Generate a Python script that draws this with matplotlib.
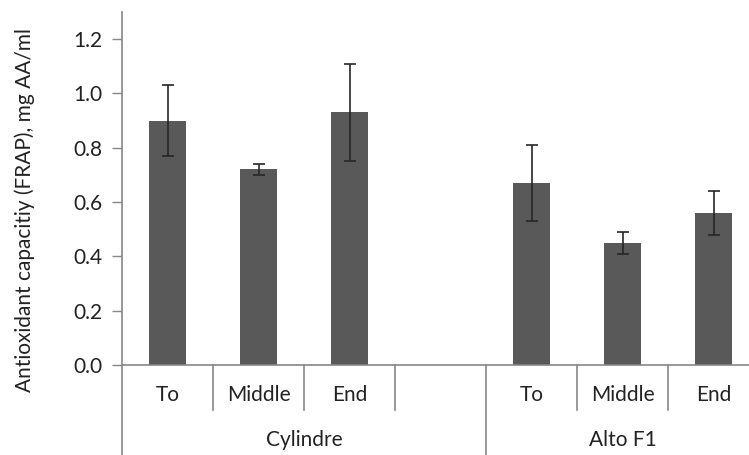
import numpy as np
import matplotlib.pyplot as plt
from matplotlib import rcParams

rcParams['font.family'] = ['Lato', 'DejaVu Sans']

# ===== data =====
groups = ['Cylindre', 'Alto F1']
sub_labels = ['To', 'Middle', 'End']
cyl_vals = [0.90, 0.72, 0.93]
cyl_err = [0.13, 0.02, 0.18]
alto_vals = [0.67, 0.45, 0.56]
alto_err = [0.14, 0.04, 0.08]
y_ticks = [0.0, 0.2, 0.4, 0.6, 0.8, 1.0, 1.2]
ylabel = 'Antioxidant capacitiy (FRAP), mg AA/ml'

# slots: 3 Cylindre + 1 empty + 3 Alto
cyl_pos = np.arange(len(cyl_vals))
alto_pos = np.arange(len(alto_vals)) + len(cyl_vals) + 1
n_slots = len(cyl_vals) + 1 + len(alto_vals)

W, H = 749, 455
fig = plt.figure(figsize=(W / 100, H / 100), dpi=100)
ax = fig.add_axes([122 / W, 1 - 365 / H, 637 / W, 353 / H])

fs = 15
txt = '#222222'
bar_color = '#595959'
err_kw = dict(ecolor='#262626', elinewidth=1.2, capsize=4.5, capthick=1.2)
ax.bar(cyl_pos, cyl_vals, width=0.4, color=bar_color, yerr=cyl_err, error_kw=err_kw)
ax.bar(alto_pos, alto_vals, width=0.4, color=bar_color, yerr=alto_err, error_kw=err_kw)

ax.set_xlim(-0.5, n_slots - 0.5)
ax.set_ylim(0, 1.3)
ax.set_yticks(y_ticks)
ax.set_yticklabels([f'{v:.1f}' for v in y_ticks], fontsize=fs, color=txt)
ax.tick_params(axis='y', length=7, width=1, color='#868686', pad=7)
ax.set_xticks([])

for s in ['top', 'right']:
    ax.spines[s].set_visible(False)
for s in ['left', 'bottom']:
    ax.spines[s].set_color('#868686')
    ax.spines[s].set_linewidth(1.2)

# category axis: separators and labels below the axis
trans = ax.get_xaxis_transform()
grey = '#868686'
inner_drop = -45 / 353
outer_drop = -95 / 353
# group boundaries (long lines)
for xb in [-0.5, len(cyl_vals) + 0.5]:
    ax.plot([xb, xb], [0, outer_drop], transform=trans, color=grey, lw=1.2, clip_on=False)
# inner boundaries (short lines)
for xb in [0.5, 1.5, 2.5, 4.5, 5.5, 6.5]:
    ax.plot([xb, xb], [0, inner_drop], transform=trans, color=grey, lw=1.2, clip_on=False)

for p, lab in zip(list(cyl_pos) + list(alto_pos), sub_labels + sub_labels):
    ax.text(p, -30 / 353, lab, transform=trans, ha='center', va='center',
            fontsize=fs, color=txt)

ax.text(1.5, -75 / 353, groups[0], transform=trans, ha='center', va='center',
        fontsize=fs, color=txt)
ax.text(alto_pos.mean(), -75 / 353, groups[1], transform=trans, ha='center', va='center',
        fontsize=fs, color=txt)

fig.text(25 / W, 1 - 210 / H, ylabel, rotation=90, ha='center', va='center',
         fontsize=fs, color=txt)

fig.savefig('out.png', dpi=100)
